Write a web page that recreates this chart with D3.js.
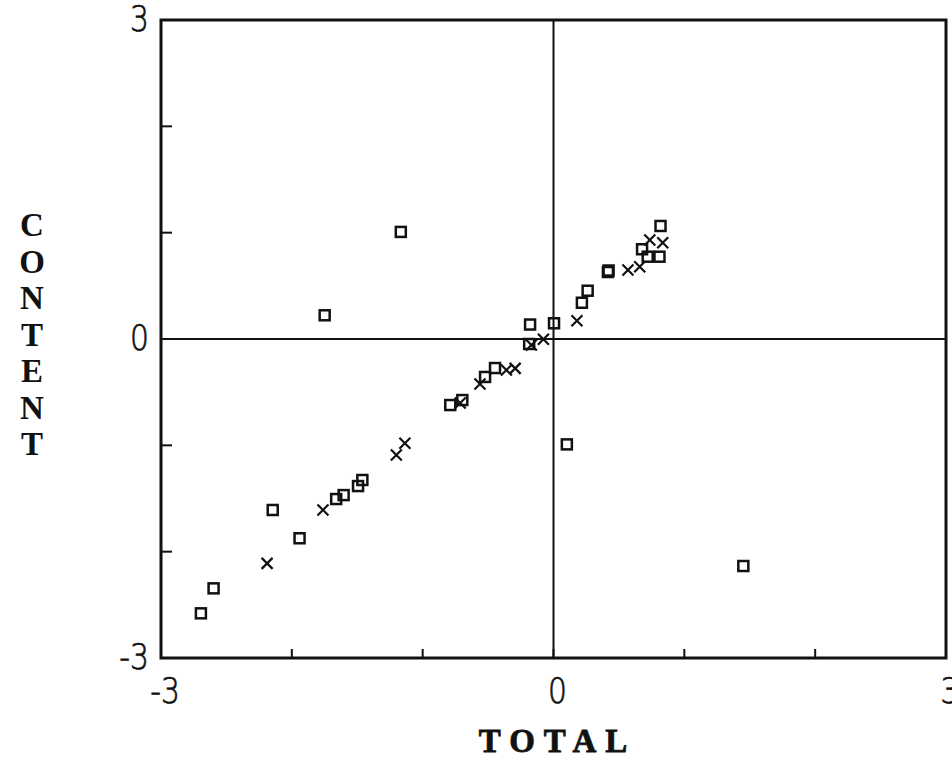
<!DOCTYPE html>
<html>
  <head>
    <meta charset="utf-8">
    <script src="https://d3js.org/d3.v7.min.js"></script>
    <style>
      body { margin: 0; background: #fff; }
      .tick-label { font-family: 'DejaVu Sans'; font-weight: 200; font-size: 35px; fill: #111; stroke: #111; stroke-width: 0.7px; }
      .axis-title { font-family: 'Liberation Serif'; font-weight: bold; font-size: 33px; fill: #111; }
    </style>
  </head>
<body>
<script type="text/javascript">
  // values
  var squareTotal   = [-1.167, -1.749, -2.146, -1.941, -2.598, -2.695, -1.661, -1.604, -1.494, -1.461,
                       -0.789, -0.697, -0.523, -0.447, -0.179, 0.004, -0.186, 0.217, 0.261, 0.416,
                        0.421, 0.677, 0.720, 0.818, 0.810, 0.102, 1.451];
  var squareContent = [ 1.007, 0.223, -1.608, -1.874, -2.345, -2.580, -1.505, -1.468, -1.383, -1.326,
                       -0.621, -0.574, -0.357, -0.273, 0.136, 0.148, -0.047, 0.341, 0.454, 0.630,
                        0.644, 0.844, 0.774, 1.063, 0.774, -0.991, -2.135];
  var crossTotal    = [-2.189, -1.762, -1.201, -1.136, -0.713, -0.562, -0.360, -0.293, -0.169, -0.077,
                        0.179, 0.569, 0.659, 0.736, 0.835];
  var crossContent  = [-2.110, -1.608, -1.091, -0.981, -0.602, -0.423, -0.292, -0.276, -0.056, -0.003,
                        0.172, 0.649, 0.680, 0.931, 0.906];
  var tickValues = [-2, -1, 0, 1, 2];
  var endLabels = ["-3", "0", "3"];
  var endValues = [-3, 0, 3];

  var width = 952, height = 763;
  var svg = d3.select("body").append("svg")
      .attr("width", width)
      .attr("height", height);

  var x = d3.scaleLinear().domain([-3, 3]).range([161, 946]);
  var y = d3.scaleLinear().domain([-3, 3]).range([658, 20]);

  var g = svg.append("g").attr("stroke", "#111").attr("fill", "none");

  // frame
  g.append("rect")
      .attr("x", x(-3)).attr("y", y(3))
      .attr("width", x(3) - x(-3)).attr("height", y(-3) - y(3))
      .attr("stroke-width", 3);

  // zero lines
  g.append("line").attr("x1", x(0)).attr("x2", x(0)).attr("y1", y(3)).attr("y2", y(-3)).attr("stroke-width", 2);
  g.append("line").attr("x1", x(-3)).attr("x2", x(3)).attr("y1", y(0)).attr("y2", y(0)).attr("stroke-width", 2);

  // inward ticks
  g.selectAll(".xt").data(tickValues).enter().append("line")
      .attr("x1", d => x(d)).attr("x2", d => x(d))
      .attr("y1", y(-3)).attr("y2", y(-3) - 9).attr("stroke-width", 2);
  g.selectAll(".yt").data(tickValues).enter().append("line")
      .attr("x1", x(-3)).attr("x2", x(-3) + 11)
      .attr("y1", d => y(d)).attr("y2", d => y(d)).attr("stroke-width", 2);

  // tick labels
  svg.selectAll(".xl").data(endValues).enter().append("text")
      .attr("class", "tick-label")
      .attr("text-anchor", "middle")
      .attr("transform", d => "translate(" + (x(d) + 4) + "," + (y(-3) + 45) + ") scale(0.85,1)")
      .text((d, i) => endLabels[i]);
  svg.selectAll(".yl").data(endValues).enter().append("text")
      .attr("class", "tick-label")
      .attr("text-anchor", "end")
      .attr("transform", d => "translate(149," + (y(d) + 11) + ") scale(0.85,1)")
      .text((d, i) => endLabels[i]);

  // titles
  svg.append("text").attr("class", "axis-title")
      .attr("x", x(0) + 4).attr("y", 752)
      .attr("text-anchor", "middle")
      .attr("font-weight", "normal")
      .attr("stroke", "#111").attr("stroke-width", 0.8)
      .attr("letter-spacing", 9)
      .text("TOTAL");
  svg.append("text").attr("class", "axis-title")
      .attr("text-anchor", "middle")
      .selectAll("tspan").data("CONTENT".split("")).enter().append("tspan")
      .attr("x", 32)
      .attr("y", (d, i) => 236 + i * 36.5)
      .text(d => d);

  // square markers
  var sq = squareTotal.map((t, i) => ({t: t, c: squareContent[i]}));
  g.selectAll(".sq").data(sq).enter().append("rect")
      .attr("x", d => x(d.t) - 5).attr("y", d => y(d.c) - 5)
      .attr("width", 10).attr("height", 10)
      .attr("stroke-width", 2.5);

  // cross markers
  var cr = crossTotal.map((t, i) => ({t: t, c: crossContent[i]}));
  g.selectAll(".cr").data(cr).enter().append("path")
      .attr("d", d => {
        var px = x(d.t), py = y(d.c), r = 5.5;
        return "M" + (px - r) + "," + (py - r) + "L" + (px + r) + "," + (py + r) +
               "M" + (px + r) + "," + (py - r) + "L" + (px - r) + "," + (py + r);
      })
      .attr("stroke-width", 2.2);
</script>
</body>
</html>
